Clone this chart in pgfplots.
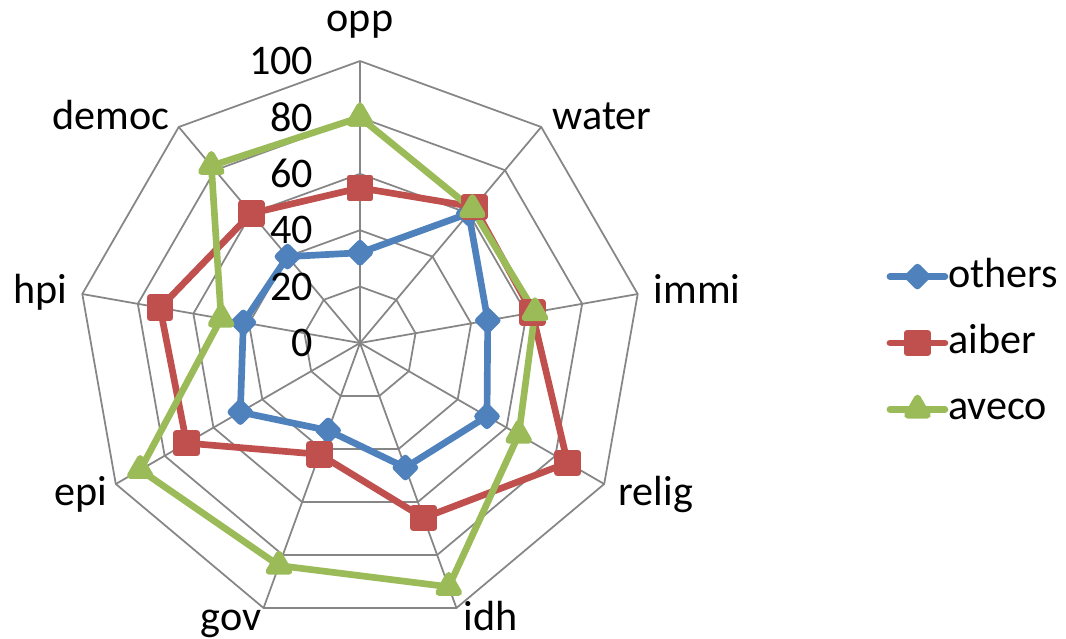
\documentclass[border=0pt]{standalone}
\usepackage{fontspec}
\setmainfont{Carlito}
\usepackage{pgfplots}
\pgfplotsset{compat=1.18}

\definecolor{cothers}{HTML}{4F81BD}
\definecolor{caiber}{HTML}{C0504D}
\definecolor{caveco}{HTML}{9BBB59}
\definecolor{cgrid}{HTML}{868686}

\begin{document}
\begin{tikzpicture}[font=\fontsize{12}{14}\selectfont]
\useasboundingbox (-3.60,-2.95) rectangle (7.06,3.43);
\begin{axis}[
    at={(0,0)}, anchor=origin,
    x=0.0282cm, y=0.0282cm,
    xmin=-100, xmax=100, ymin=-100, ymax=100,
    hide axis, clip=false,
    legend style={at={(axis cs:186.5,0)}, anchor=west, draw=none, fill=none,
        inner sep=0pt, row sep=6.9pt,
        nodes={inner sep=0pt, text height=9pt, text depth=3pt},
        /tikz/every odd column/.append style={column sep=0pt}},
    legend cell align=left,
    legend image code/.code={
        \draw[mark repeat=2, mark phase=2] plot coordinates {(0cm,0cm) (0.275cm,0cm) (0.55cm,0cm)};},
]
% polygon grid
\pgfplotsinvokeforeach{20,40,60,80,100}{
    \addplot[cgrid, line width=0.5pt, data cs=polar, forget plot, no marks] coordinates {
        (90,#1) (50,#1) (10,#1) (-30,#1) (-70,#1) (-110,#1) (-150,#1) (170,#1) (130,#1) (90,#1)};
}
% spokes
\pgfplotsinvokeforeach{90,50,10,-30,-70,-110,-150,170,130}{
    \addplot[cgrid, line width=0.5pt, data cs=polar, forget plot, no marks] coordinates {(#1,0) (#1,100)};
}
% others
\addplot[cothers, line width=1.9pt, line join=round, line cap=round, data cs=polar,
    mark=square*, mark size=0.067cm,
    mark options={rotate=45, draw=none, fill=cothers}] coordinates {
    (90,32) (50,60) (10,46) (-30,52) (-70,47) (-110,33) (-150,49) (170,42) (130,40) (90,32)};
\addlegendentry{others}
% aiber
\addplot[caiber, line width=1.9pt, line join=round, line cap=round, data cs=polar,
    mark=square*, mark size=0.1cm,
    mark options={draw=none, fill=caiber}] coordinates {
    (90,55) (50,63) (10,62) (-30,85) (-70,66) (-110,42) (-150,71) (170,72) (130,60) (90,55)};
\addlegendentry{aiber}
% aveco
\addplot[caveco, line width=1.9pt, line join=round, line cap=round, data cs=polar,
    mark=triangle*, mark size=0.115cm,
    mark options={draw=none, fill=caveco}] coordinates {
    (90,80) (50,62) (10,63) (-30,65) (-70,92) (-110,84) (-150,90) (170,50) (130,82) (90,80)};
\addlegendentry{aveco}
\end{axis}
% radial values
\foreach \v in {0,20,40,60,80,100} {
    \node[anchor=east, inner sep=0pt] at (-0.46, \v*0.0282) {\v};
}
% category names
\node[anchor=base, inner sep=0pt] at (0.00, 3.11) {opp};
\node[anchor=base west, inner sep=0pt] at (1.92, 2.13) {water};
\node[anchor=base west, inner sep=0pt] at (2.93, 0.40) {immi};
\node[anchor=base west, inner sep=0pt] at (2.58, -1.62) {relig};
\node[anchor=base west, inner sep=0pt] at (1.03, -2.87) {idh};
\node[anchor=base east, inner sep=0pt] at (-0.98, -2.87) {gov};
\node[anchor=base east, inner sep=0pt] at (-2.52, -1.62) {epi};
\node[anchor=base east, inner sep=0pt] at (-2.92, 0.40) {hpi};
\node[anchor=base east, inner sep=0pt] at (-1.90, 2.13) {democ};
\end{tikzpicture}
\end{document}
